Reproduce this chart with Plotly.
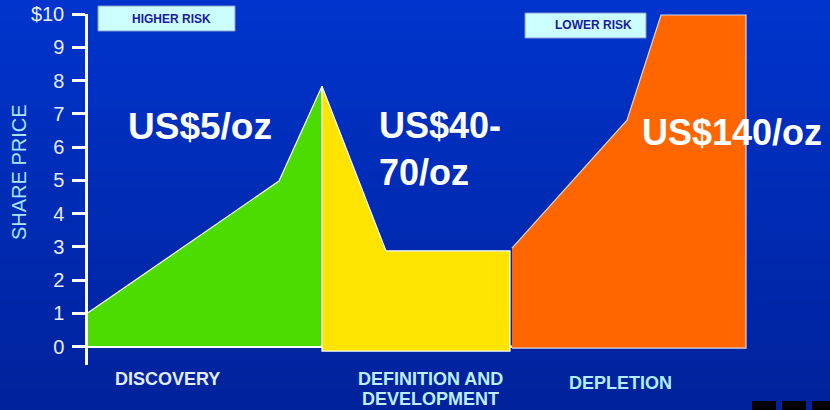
import plotly.graph_objects as go

# ---------------- data ----------------
# x: time along the mine life (arbitrary units), y: share price ($)
discovery_x = [0.0, 19.1, 23.4, 23.4, 0.0]
discovery_y = [1.02, 4.98, 7.83, 0.0, 0.0]

definition_x = [23.4, 29.8, 42.2, 42.2, 23.4, 23.4]
definition_y = [7.83, 2.88, 2.88, -0.13, -0.13, 7.83]

depletion_x = [42.4, 53.9, 57.3, 65.8, 65.8, 42.4]
depletion_y = [2.96, 6.81, 9.97, 9.97, -0.04, -0.04]

axis_x = [0.0, 48.1]
axis_y = [0.0, 0.0]

tick_vals = [0, 1, 2, 3, 4, 5, 6, 7, 8, 9, 10]
tick_text = ["0", "1", "2", "3", "4", "5", "6", "7", "8", "9", "$10"]

price_labels = ["US$5/oz", "US$40-<br>70/oz", "US$140/oz"]
stage_labels = ["DISCOVERY", "DEFINITION AND<br>DEVELOPMENT", "DEPLETION"]
risk_labels = ["HIGHER RISK", "LOWER RISK"]

# ---------------- layout helpers ----------------
W, H = 830, 410
L, R, T, B = 88, 0, 14, 45


def px_x(p):
    return (p - L) / (W - L - R)


def px_y(p):
    return (H - B - p) / (H - T - B)


FONT = "Liberation Sans, Arial, sans-serif"

fig = go.Figure()

fig.add_trace(go.Scatter(x=axis_x, y=axis_y, mode="lines",
                         line=dict(color="white", width=2.5),
                         hoverinfo="skip", showlegend=False))

fig.add_trace(go.Scatter(x=discovery_x, y=discovery_y, mode="lines", fill="toself",
                         fillcolor="#4DDC00", line=dict(color="white", width=1.2),
                         hoverinfo="skip", showlegend=False))
fig.add_trace(go.Scatter(x=definition_x, y=definition_y, mode="lines", fill="toself",
                         fillcolor="#FFE400", line=dict(color="white", width=1.2),
                         hoverinfo="skip", showlegend=False))
fig.add_trace(go.Scatter(x=depletion_x, y=depletion_y, mode="lines", fill="toself",
                         fillcolor="#FF6600", line=dict(color="#D8D8E8", width=1.2),
                         hoverinfo="skip", showlegend=False))

# background gradient
shapes = []
n = 41
top = (0, 52, 204)
bot = (0, 34, 156)
for i in range(n):
    f = i / (n - 1)
    c = tuple(round(top[k] + (bot[k] - top[k]) * f) for k in range(3))
    y0 = i * H / n
    y1 = (i + 1) * H / n + 1
    shapes.append(dict(type="rect", xref="paper", yref="paper", layer="below",
                       x0=px_x(0), x1=px_x(W), y0=px_y(y1), y1=px_y(y0),
                       fillcolor="rgb(%d,%d,%d)" % c, line=dict(width=0)))

# small black squares at bottom right
for x0 in [752, 782, 812]:
    shapes.append(dict(type="rect", xref="paper", yref="paper",
                       x0=px_x(x0), x1=px_x(x0 + 24), y0=px_y(416), y1=px_y(401),
                       fillcolor="black", line=dict(width=0)))

# risk boxes
for bx0, bx1, by0, by1 in [(98, 235, 6, 31), (525, 646, 13, 38)]:
    shapes.append(dict(type="rect", xref="paper", yref="paper", layer="above",
                       x0=px_x(bx0), x1=px_x(bx1), y0=px_y(by1), y1=px_y(by0),
                       fillcolor="#CCFFFF", line=dict(color="#8899CC", width=1)))

annotations = []
# price labels
annotations.append(dict(text="<b>" + price_labels[0] + "</b>", xref="paper", yref="paper",
                        x=px_x(200), y=px_y(126), xanchor="center", yanchor="middle",
                        showarrow=False, font=dict(family=FONT, size=37, color="white")))
annotations.append(dict(text="<b>" + price_labels[1] + "</b>", xref="paper", yref="paper",
                        x=px_x(377), y=px_y(149), xanchor="left", yanchor="middle", align="left",
                        showarrow=False, font=dict(family=FONT, size=36, color="white")))
annotations.append(dict(text="<b>" + price_labels[2] + "</b>", xref="paper", yref="paper",
                        x=px_x(732), y=px_y(132), xanchor="center", yanchor="middle",
                        showarrow=False, font=dict(family=FONT, size=36, color="white")))

# stage labels
annotations.append(dict(text="<b>" + stage_labels[0] + "</b>", xref="paper", yref="paper",
                        x=px_x(167.5), y=px_y(379), xanchor="center", yanchor="middle",
                        showarrow=False, font=dict(family=FONT, size=18, color="#E4ECFF")))
for line_text, ypos in zip(stage_labels[1].split("<br>"), [379, 399]):
    annotations.append(dict(text="<b>" + line_text + "</b>", xref="paper", yref="paper",
                            x=px_x(430.5), y=px_y(ypos), xanchor="center", yanchor="middle",
                            showarrow=False, font=dict(family=FONT, size=18, color="#BDEFFF")))
annotations.append(dict(text="<b>" + stage_labels[2] + "</b>", xref="paper", yref="paper",
                        x=px_x(620.5), y=px_y(383), xanchor="center", yanchor="middle",
                        showarrow=False, font=dict(family=FONT, size=18, color="#B0EEFF")))

# risk box texts
for txt, cx, cy in zip(risk_labels, [171, 593.5], [19, 25.5]):
    annotations.append(dict(text="<b>" + txt + "</b>", xref="paper", yref="paper",
                            x=px_x(cx), y=px_y(cy), xanchor="center", yanchor="middle",
                            showarrow=False,
                            font=dict(family=FONT, size=12, color="#1A1A99")))

# y-axis title
annotations.append(dict(text="SHARE PRICE", xref="paper", yref="paper",
                        x=px_x(19), y=px_y(172), xanchor="center", yanchor="middle",
                        textangle=-90, showarrow=False,
                        font=dict(family=FONT, size=20, color="#A8E4FF")))

fig.update_layout(
    width=W, height=H,
    margin=dict(l=L, r=R, t=T, b=B),
    paper_bgcolor="#002AB0",
    plot_bgcolor="rgba(0,0,0,0)",
    shapes=shapes,
    annotations=annotations,
    xaxis=dict(range=[0, (W - L - R) / 10], visible=False, fixedrange=True),
    yaxis=dict(range=[-0.55, 10], tickvals=tick_vals, ticktext=tick_text,
               showgrid=False, zeroline=False, showline=True,
               linecolor="white", linewidth=2.5,
               ticks="outside", ticklen=13, tickwidth=2.5, tickcolor="white",
               ticklabelstandoff=4, fixedrange=True,
               tickfont=dict(family=FONT, size=20, color="#E8ECFF")),
)

fig.write_html("out.html", config={"displayModeBar": False},
               post_script="document.body.style.margin='0';document.body.style.overflow='hidden';")
